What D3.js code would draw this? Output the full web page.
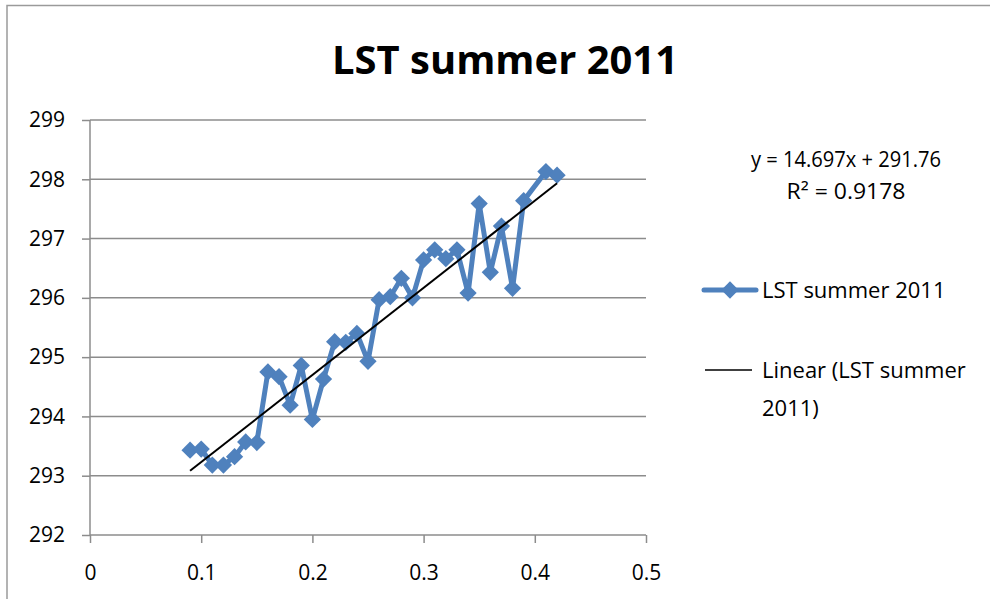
<!DOCTYPE html>
<html>
<head>
<meta charset="utf-8">
<script src="https://cdn.jsdelivr.net/npm/d3@7"></script>
<style>
  body { margin: 0; background: #fff; }
  svg { display: block; font-family: "Open Sans", sans-serif; }
</style>
</head>
<body>
<svg id="chart" width="990" height="599"></svg>
<script>
var xValues = [0.09, 0.10, 0.11, 0.12, 0.13, 0.14, 0.15, 0.16, 0.17, 0.18, 0.19, 0.20, 0.21, 0.22, 0.23, 0.24, 0.25,
  0.26, 0.27, 0.28, 0.29, 0.30, 0.31, 0.32, 0.33, 0.34, 0.35, 0.36, 0.37, 0.38, 0.39, 0.41, 0.42];
var lstValues = [293.43, 293.45, 293.18, 293.18, 293.32, 293.57, 293.56, 294.75, 294.67, 294.19, 294.86, 293.95, 294.63,
  295.26, 295.25, 295.40, 294.93, 295.97, 296.02, 296.33, 296.00, 296.64, 296.81, 296.66, 296.81, 296.08, 297.59,
  296.43, 297.21, 296.16, 297.64, 298.13, 298.07];
var xTicks = [0, 0.1, 0.2, 0.3, 0.4, 0.5];
var yTicks = [292, 293, 294, 295, 296, 297, 298, 299];
var seriesName = "LST summer 2011";
var trendSlope = 14.697, trendIntercept = 291.76;

var blue = "#4F81BD", grid = "#8c8c8c";
var svg = d3.select("#chart");

// chart frame
svg.append("path")
  .attr("d", "M7,599 V5.5 H990")
  .attr("fill", "none").attr("stroke", "#9a9a9a").attr("stroke-width", 1.5);

var x = d3.scaleLinear().domain([0, 0.5]).range([90, 646]);
var y = d3.scaleLinear().domain([292, 299]).range([535, 120]);

// title
svg.append("text")
  .attr("x", 505).attr("y", 74)
  .attr("text-anchor", "middle")
  .attr("font-size", 39).attr("font-weight", "bold")
  .attr("textLength", 346).attr("lengthAdjust", "spacingAndGlyphs")
  .text("LST summer 2011");

// gridlines
svg.append("g").selectAll("line")
  .data(yTicks.slice(1))
  .enter().append("line")
    .attr("x1", x(0)).attr("x2", x(0.5))
    .attr("y1", d => y(d)).attr("y2", d => y(d))
    .attr("stroke", grid).attr("stroke-width", 1.5);

var xAxis = d3.axisBottom(x).tickValues(xTicks).tickSize(8).tickPadding(22).tickFormat(d3.format("~g"));
var yAxis = d3.axisLeft(y).tickValues(yTicks).tickSize(8).tickPadding(17).tickFormat(d3.format("d"));

var gx = svg.append("g").attr("transform", "translate(0," + y(292) + ")").call(xAxis);
var gy = svg.append("g").attr("transform", "translate(" + x(0) + ",0)").call(yAxis);
[gx, gy].forEach(g => {
  g.select(".domain").attr("stroke", grid).attr("stroke-width", 1.5);
  g.selectAll(".tick line").attr("stroke", grid).attr("stroke-width", 1.5);
  g.selectAll("text").attr("font-size", 21).attr("fill", "#000").attr("font-family", "Open Sans, sans-serif");
});
gx.select(".domain").attr("d", "M" + x(0) + ",0H" + x(0.5));
gy.select(".domain").attr("d", "M0," + y(292) + "V" + y(299));

// series
var pts = xValues.map((v, i) => [v, lstValues[i]]);
var line = d3.line().x(d => x(d[0])).y(d => y(d[1]));

svg.append("path")
  .datum(pts)
  .attr("d", line)
  .attr("fill", "none").attr("stroke", blue).attr("stroke-width", 5)
  .attr("stroke-linejoin", "round");

var diamond = d3.symbol().type(d3.symbolDiamond2).size(190);
svg.append("g").selectAll("path")
  .data(pts)
  .enter().append("path")
    .attr("transform", d => "translate(" + x(d[0]) + "," + y(d[1]) + ")")
    .attr("d", diamond)
    .attr("fill", blue);

// trendline
var x0 = d3.min(xValues), x1 = d3.max(xValues);
svg.append("line")
  .attr("x1", x(x0)).attr("y1", y(trendSlope * x0 + trendIntercept))
  .attr("x2", x(x1)).attr("y2", y(trendSlope * x1 + trendIntercept))
  .attr("stroke", "#000").attr("stroke-width", 2);

// equation
svg.append("text").attr("x", 846).attr("y", 167).attr("text-anchor", "middle").attr("font-size", 21)
  .attr("textLength", 190).attr("lengthAdjust", "spacingAndGlyphs")
  .text("y = " + trendSlope + "x + " + trendIntercept);
svg.append("text").attr("x", 846).attr("y", 199).attr("text-anchor", "middle").attr("font-size", 21)
  .attr("textLength", 119).attr("lengthAdjust", "spacingAndGlyphs")
  .text("R\u00B2 = 0.9178");

// legend
var leg = svg.append("g");
leg.append("line").attr("x1", 704).attr("x2", 756).attr("y1", 290).attr("y2", 290)
  .attr("stroke", blue).attr("stroke-width", 5).attr("stroke-linecap", "round");
leg.append("path").attr("transform", "translate(730,290)").attr("d", diamond).attr("fill", blue);
leg.append("text").attr("x", 762).attr("y", 298).attr("font-size", 22).text(seriesName);

leg.append("line").attr("x1", 705).attr("x2", 752).attr("y1", 370).attr("y2", 370)
  .attr("stroke", "#000").attr("stroke-width", 1.5);
leg.append("text").attr("x", 762).attr("y", 378).attr("font-size", 22).text("Linear (" + seriesName.split(" 2011")[0]);
leg.append("text").attr("x", 762).attr("y", 416).attr("font-size", 22).text("2011)");
</script>
</body>
</html>
